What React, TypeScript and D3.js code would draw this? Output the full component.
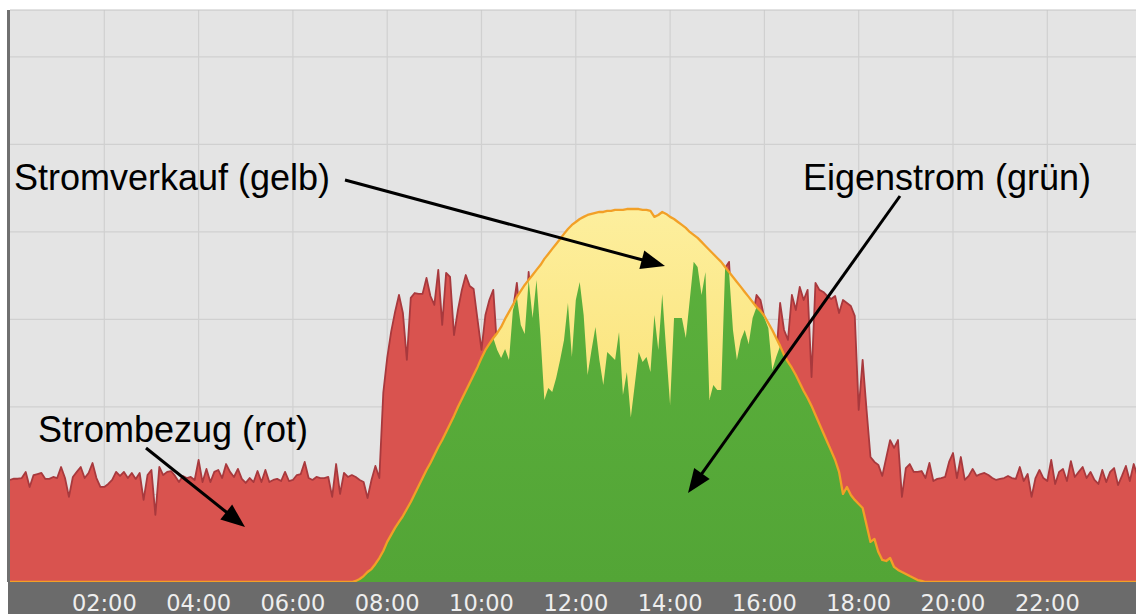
import React from "react";
import * as d3 from "d3";

// 5-minute samples starting at 00:00 (values in W)
const STEP_MINUTES = 5;

const consumptionW = [
  583, 590, 590, 594, 629, 543, 611, 617, 623, 589,
  589, 600, 594, 657, 594, 486, 600, 629, 657, 594,
  623, 680, 594, 543, 543, 560, 583, 629, 606, 629,
  594, 623, 589, 623, 469, 611, 640, 383, 657, 611,
  629, 634, 606, 571, 606, 594, 600, 583, 697, 571,
  646, 571, 629, 640, 594, 674, 629, 600, 646, 589,
  566, 594, 571, 634, 571, 640, 571, 583, 589, 577,
  629, 577, 583, 611, 617, 686, 594, 583, 600, 594,
  594, 600, 486, 674, 503, 623, 600, 611, 600, 583,
  571, 480, 583, 663, 594, 1080, 1280, 1429, 1543, 1640,
  1537, 1269, 1623, 1651, 1646, 1646, 1737, 1634, 1583, 1783,
  1469, 1766, 1743, 1411, 1554, 1669, 1754, 1691, 1674, 1497,
  1326, 1526, 1611, 1669, 1326, 1280, 1331, 1269, 1554, 1709,
  1469, 1417, 1771, 1509, 1726, 1411, 1040, 1109, 1086, 1166,
  1269, 1383, 1594, 1286, 1611, 1714, 1526, 1183, 1326, 1457,
  1269, 1126, 1314, 1291, 1269, 1429, 1069, 1200, 940, 1126,
  1314, 1257, 1286, 1200, 1526, 1326, 1646, 1326, 1011, 1509,
  1509, 1509, 1394, 1611, 1829, 1800, 1640, 1771, 1040, 1126,
  1097, 1097, 1794, 1829, 1440, 1269, 1383, 1440, 1360, 1509,
  1640, 1611, 1509, 1451, 1211, 1286, 1594, 1440, 1383, 1640,
  1554, 1686, 1611, 1669, 1171, 1709, 1669, 1657, 1634, 1617,
  1634, 1537, 1611, 1594, 1577, 1520, 983, 1269, 983, 714,
  686, 669, 606, 709, 811, 766, 811, 486, 651, 674,
  629, 629, 634, 594, 680, 577, 589, 594, 600, 686,
  737, 594, 714, 583, 606, 646, 606, 617, 623, 611,
  594, 583, 589, 594, 606, 594, 589, 657, 577, 617,
  486, 594, 640, 594, 577, 697, 560, 629, 646, 577,
  691, 600, 629, 657, 594, 629, 583, 560, 640, 571,
  629, 651, 554, 606, 663, 577, 674, 600,
];

const productionW = [
  0, 0, 0, 0, 0, 0, 0, 0, 0, 0,
  0, 0, 0, 0, 0, 0, 0, 0, 0, 0,
  0, 0, 0, 0, 0, 0, 0, 0, 0, 0,
  0, 0, 0, 0, 0, 0, 0, 0, 0, 0,
  0, 0, 0, 0, 0, 0, 0, 0, 0, 0,
  0, 0, 0, 0, 0, 0, 0, 0, 0, 0,
  0, 0, 0, 0, 0, 0, 0, 0, 0, 0,
  0, 0, 0, 0, 0, 0, 0, 0, 0, 0,
  0, 0, 0, 0, 0, 0, 0, 0, 6, 17,
  34, 57, 74, 103, 137, 177, 229, 269, 309, 343,
  377, 417, 457, 503, 549, 594, 640, 680, 726, 771,
  811, 857, 903, 949, 1000, 1046, 1091, 1137, 1183, 1229,
  1280, 1326, 1360, 1394, 1423, 1457, 1503, 1543, 1583, 1629,
  1663, 1697, 1726, 1754, 1783, 1811, 1846, 1874, 1903, 1931,
  1960, 1989, 2017, 2040, 2057, 2074, 2086, 2097, 2103, 2109,
  2114, 2114, 2120, 2120, 2126, 2126, 2126, 2131, 2131, 2131,
  2131, 2126, 2126, 2120, 2086, 2097, 2114, 2103, 2086, 2074,
  2057, 2040, 2023, 2000, 1983, 1966, 1943, 1920, 1897, 1874,
  1851, 1829, 1800, 1771, 1743, 1714, 1686, 1657, 1629, 1600,
  1571, 1549, 1520, 1480, 1440, 1394, 1349, 1297, 1257, 1223,
  1183, 1137, 1091, 1051, 1006, 954, 903, 851, 800, 749,
  697, 629, 503, 543, 497, 469, 446, 423, 326, 229,
  246, 171, 126, 120, 137, 86, 69, 57, 46, 34,
  23, 11, 6, 0, 0, 0, 0, 0, 0, 0,
  0, 0, 0, 0, 0, 0, 0, 0, 0, 0,
  0, 0, 0, 0, 0, 0, 0, 0, 0, 0,
  0, 0, 0, 0, 0, 0, 0, 0, 0, 0,
  0, 0, 0, 0, 0, 0, 0, 0, 0, 0,
  0, 0, 0, 0, 0, 0, 0, 0,
];

const tickHours = [2, 4, 6, 8, 10, 12, 14, 16, 18, 20, 22];
const tickLabels = ["02:00", "04:00", "06:00", "08:00", "10:00", "12:00", "14:00", "16:00", "18:00", "20:00", "22:00"];
const gridValuesW = [500, 1000, 1500, 2000, 2500, 3000];

const annotations = [
  { label: "Stromverkauf (gelb)", tx: 14, ty: 190, from: [345, 180], to: [665, 266] },
  { label: "Eigenstrom (grün)", tx: 803, ty: 190, from: [900, 196], to: [688, 493] },
  { label: "Strombezug (rot)", tx: 38, ty: 442, from: [146, 448], to: [245, 527] },
];

const W = 1136;
const H = 614;
const plotLeft = 10;
const plotTop = 10;
const plotBottom = 582;
const pxPerHour = 47.15;

type Row = { h: number; c: number; p: number; s: number };

function Arrow({ from, to }: { from: number[]; to: number[] }) {
  const [x1, y1] = from;
  const [x2, y2] = to;
  const ang = Math.atan2(y2 - y1, x2 - x1);
  const len = 24;
  const hw = 9.5;
  const bx = x2 - len * Math.cos(ang);
  const by = y2 - len * Math.sin(ang);
  const px = -Math.sin(ang);
  const py = Math.cos(ang);
  const pts = [
    [x2, y2],
    [bx + hw * px, by + hw * py],
    [bx - hw * px, by - hw * py],
  ];
  return (
    <g>
      <line x1={x1} y1={y1} x2={bx + 2 * Math.cos(ang)} y2={by + 2 * Math.sin(ang)} stroke="#000" strokeWidth={3} />
      <polygon points={pts.map((p) => p.join(",")).join(" ")} fill="#000" />
    </g>
  );
}

export default function App() {
  const x = d3.scaleLinear().domain([0, 24]).range([plotLeft, plotLeft + 24 * pxPerHour]);
  const y = d3.scaleLinear().domain([0, 3268]).range([plotBottom, plotTop]);

  const data: Row[] = consumptionW.map((c, i) => {
    const p = productionW[i];
    return { h: (i * STEP_MINUTES) / 60, c, p, s: Math.min(c, p) };
  });

  const areaOf = (acc: (d: Row) => number) =>
    d3
      .area<Row>()
      .x((d) => x(d.h))
      .y0(y(0))
      .y1((d) => y(acc(d)))(data) || "";
  const lineOf = (acc: (d: Row) => number) =>
    d3
      .line<Row>()
      .x((d) => x(d.h))
      .y((d) => y(acc(d)))(data) || "";

  return (
    <svg
      width={W}
      height={H}
      style={{ position: "absolute", left: 0, top: 0, background: "#fff" }}
    >
      <defs>
        <clipPath id="plot">
          <rect x={plotLeft} y={plotTop} width={W - plotLeft} height={plotBottom - plotTop} />
        </clipPath>
        <linearGradient id="yellowGrad" x1="0" y1="0" x2="0" y2="1" gradientUnits="objectBoundingBox">
          <stop offset="0" stopColor="#fdef9e" />
          <stop offset="0.5" stopColor="#fbe47c" />
          <stop offset="1" stopColor="#f9df6c" />
        </linearGradient>
        <linearGradient id="greenGrad" x1="0" y1="0" x2="0" y2="1">
          <stop offset="0" stopColor="#5bb03c" />
          <stop offset="1" stopColor="#53a536" />
        </linearGradient>
      </defs>

      {/* plot background */}
      <rect x={plotLeft} y={plotTop} width={W - plotLeft} height={plotBottom - plotTop} fill="#e4e4e4" />

      {/* grid */}
      <g stroke="#d0d0d0" strokeWidth={1.2}>
        {gridValuesW.map((v) => (
          <line key={"h" + v} x1={plotLeft} x2={W} y1={y(v)} y2={y(v)} />
        ))}
        {tickHours.map((hr) => (
          <line key={"v" + hr} x1={x(hr)} x2={x(hr)} y1={plotTop} y2={plotBottom} />
        ))}
      </g>

      <g clipPath="url(#plot)">
        <path d={areaOf((d) => d.c)} fill="#d9534f" />
        <path d={lineOf((d) => d.c)} fill="none" stroke="#a8393d" strokeWidth={1.8} strokeLinejoin="round" />
        <path d={areaOf((d) => d.p)} fill="url(#yellowGrad)" />
        <path d={areaOf((d) => d.s)} fill="url(#greenGrad)" />
        <path d={lineOf((d) => d.p)} fill="none" stroke="#f2a027" strokeWidth={2.3} strokeLinejoin="round" />
      </g>

      {/* borders */}
      <line x1={plotLeft} x2={W} y1={plotTop} y2={plotTop} stroke="#c4c4c4" strokeWidth={1} />
      <rect x={7} y={plotTop} width={3} height={plotBottom - plotTop} fill="#707070" />

      {/* axis band */}
      <rect x={8} y={plotBottom} width={W - 8} height={H - plotBottom} fill="#6b6b6b" />
      <g fontFamily="'DejaVu Sans', Verdana, sans-serif" fontSize={22.5} fill="#eeeeee" textAnchor="middle">
        {tickHours.map((hr, i) => (
          <text key={hr} x={x(hr)} y={610.5}>
            {tickLabels[i]}
          </text>
        ))}
      </g>

      {/* annotations */}
      {annotations.map((a) => (
        <g key={a.label}>
          <Arrow from={a.from} to={a.to} />
          <text x={a.tx} y={a.ty} fontFamily="'Liberation Sans', Arial, sans-serif" fontSize={36} fill="#000">
            {a.label}
          </text>
        </g>
      ))}
    </svg>
  );
}
